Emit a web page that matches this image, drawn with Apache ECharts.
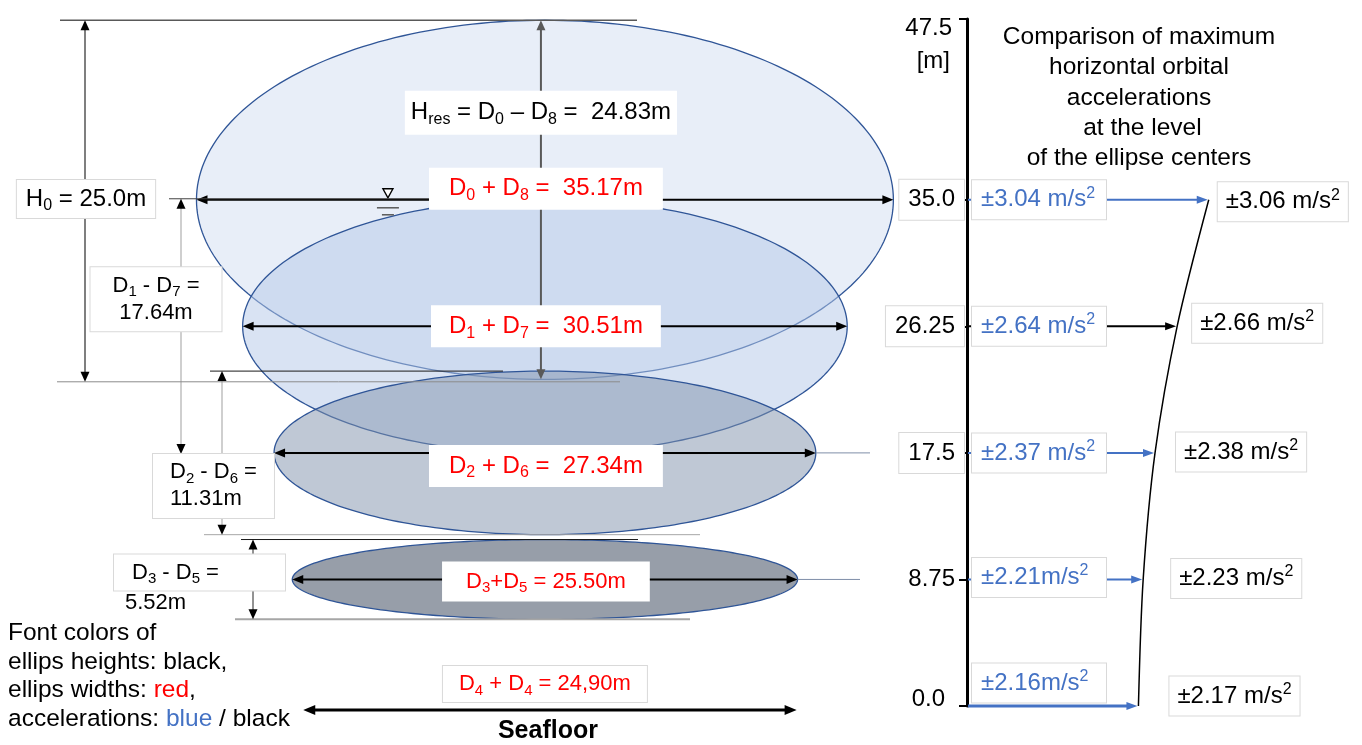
<!DOCTYPE html>
<html>
<head>
<meta charset="utf-8">
<script src="https://cdn.jsdelivr.net/npm/echarts@6/dist/echarts.min.js"></script>
<style>
  html, body { margin: 0; padding: 0; background: #ffffff; }
  #chart { width: 1362px; height: 745px; }
</style>
</head>
<body>
<div id="chart"></div>
<script>
// ---- data ----------------------------------------------------------------
// Ellipse centre heights above the seafloor [m]
const ellipseLevels = [35.0, 26.25, 17.5, 8.75];
// Ellipse widths  D_i + D_(8-i) [m]
const ellipseWidths = [35.17, 30.51, 27.34, 25.50];
// Ellipse heights D_i - D_(8-i) [m]
const ellipseHeights = [24.83, 17.64, 11.31, 5.52];
// Index pairs used in the D-labels
const ellipsePairs = [[0, 8], [1, 7], [2, 6], [3, 5]];
// Still-water depth and orbit width on the seafloor [m]
const waterDepth = 25.0;
const seafloorWidth = 24.90;
// Levels of the compared accelerations [m] and the two sets of values [m/s²]
const accLevels = [35.0, 26.25, 17.5, 8.75, 0.0];
const accBlue = [3.04, 2.64, 2.37, 2.21, 2.16];
const accBlack = [3.06, 2.66, 2.38, 2.23, 2.17];
// Height axis ticks
const heightTicks = [0.0, 8.75, 17.5, 26.25, 35.0, 47.5];
const heightTickLabels = ['0.0', '8.75', '17.5', '26.25', '35.0', '47.5'];

// ---- styling / layout ----------------------------------------------------
const FONT = '"Liberation Sans", Arial, Helvetica, sans-serif';
const RED = '#ff0000';
const BLUE = '#4472c4';
const ellipseFills = ['rgba(180,199,231,0.30)', 'rgba(180,199,231,0.50)', 'rgba(127,145,171,0.50)', '#979ea9'];
const ellipseStroke = '#2f5597';
const widthLabelDy = [-11, 0, 13, 2];
const widthLabelPad = [[6, 20], [6, 18], [6, 20], [6, 24]];
const widthLabelSize = [24, 24, 24, 22];
const widthJoin = [' + ', ' + ', ' + ', '+'];
// vertical dimension lines left of the ellipses (pixels)
const dimX = [null, 181, 222, 253];
const dimColor = [null, '#bfbfbf', '#bfbfbf', '#262626'];
const extTopEnd = [null, 583, 503, 638];
const extBotEnd = [null, 708, 700, 690];
const extTopColor = [null, '#404040', '#1a1a1a', '#1a1a1a'];
const extBotColor = [null, '#bfbfbf', '#a6a6a6', '#a6a6a6'];
const leaderEnd = [null, null, 870, 860];
// acceleration labels (pixels)
const accArrowColor = [BLUE, '#000000', BLUE, BLUE, BLUE];
const accUnitSep = [' ', ' ', ' ', '', ''];
const blueDy = [0, 0, 0, -2, -23];
const blackDx = [9, 15, 21, 28, 31];
const blackDy = [2, -3, -1, -1, -10];
const boxBorder = '#d9d9d9';

// ---- drawing helpers -----------------------------------------------------
function head(tip, from, color, len, hw) {
  const dx = tip[0] - from[0], dy = tip[1] - from[1];
  const L = Math.hypot(dx, dy) || 1, ux = dx / L, uy = dy / L;
  const bx = tip[0] - ux * len, by = tip[1] - uy * len;
  return {
    type: 'polygon',
    shape: { points: [[tip[0], tip[1]], [bx - uy * hw, by + ux * hw], [bx + uy * hw, by - ux * hw]] },
    style: { fill: color }
  };
}
function arrow(p1, p2, color, width, both, len, hw, headColor) {
  len = len || 11; hw = hw || 4.5; headColor = headColor || color;
  const dx = p2[0] - p1[0], dy = p2[1] - p1[1];
  const L = Math.hypot(dx, dy) || 1, ux = dx / L, uy = dy / L;
  const s = both ? [p1[0] + ux * len * 0.7, p1[1] + uy * len * 0.7] : p1;
  const e = [p2[0] - ux * len * 0.7, p2[1] - uy * len * 0.7];
  const out = [
    { type: 'line', shape: { x1: s[0], y1: s[1], x2: e[0], y2: e[1] }, style: { stroke: color, lineWidth: width } },
    head(p2, p1, headColor, len, hw)
  ];
  if (both) out.push(head(p1, p2, headColor, len, hw));
  return out;
}
function hline(x1, x2, y, color, w) {
  return { type: 'line', shape: { x1: x1, y1: y, x2: x2, y2: y }, style: { stroke: color, lineWidth: w || 1 } };
}
// Text block with rich tokens: n = normal, s = subscript, p = superscript
function txt(x, y, text, o) {
  o = o || {};
  const size = o.size || 24, color = o.color || '#000000';
  const small = Math.round(size * 0.66);
  const weight = o.weight || 'normal';
  return {
    type: 'text', x: x, y: y, z2: 30,
    style: {
      text: text,
      fontSize: size, fontFamily: FONT, fontWeight: weight, fill: color,
      align: o.align || 'center', verticalAlign: o.valign || 'middle',
      lineHeight: o.lineHeight,
      backgroundColor: o.bg || null,
      borderColor: o.border || null, borderWidth: o.border ? 1 : 0,
      padding: o.pad || 0,
      width: o.width,
      rich: {
        n: { fontSize: size, fontFamily: FONT, fontWeight: weight, fill: color, verticalAlign: 'middle', lineHeight: o.lineHeight },
        s: { fontSize: small, fontFamily: FONT, fill: color, verticalAlign: 'middle', padding: [Math.round(size * 0.6), 0, 0, 0] },
        p: { fontSize: small, fontFamily: FONT, fill: color, verticalAlign: 'middle', padding: [0, 0, Math.round(size * 0.55), 0] }
      }
    }
  };
}
const N = t => '{n|' + t + '}';
const S = t => '{s|' + t + '}';
const P = t => '{p|' + t + '}';

// ---- series renderers ----------------------------------------------------
function ellipseGeom(api) {
  const c = api.coord([0, api.value(1)]);
  const rx = api.size([api.value(2) / 2, 0])[0];
  const ry = api.size([0, api.value(3) / 2])[1];
  return { c: c, rx: rx, ry: ry };
}

function renderEllipse(params, api) {
  const g = ellipseGeom(api);
  const pts = [];
  for (let k = 0; k < 240; k++) {
    const t = (k / 240) * Math.PI * 2;
    pts.push([g.c[0] + g.rx * Math.cos(t), g.c[1] + g.ry * Math.sin(t)]);
  }
  return {
    type: 'polygon',
    shape: { points: pts },
    style: { fill: ellipseFills[params.dataIndex], stroke: ellipseStroke, lineWidth: 1.3 }
  };
}

function renderDimensions(params, api) {
  const i = params.dataIndex;
  const g = ellipseGeom(api);
  const left = g.c[0] - g.rx, right = g.c[0] + g.rx;
  const top = g.c[1] - g.ry, bottom = g.c[1] + g.ry;
  let ch = [];
  // width arrow across the ellipse centre
  ch = ch.concat(arrow([left, g.c[1]], [right, g.c[1]], '#000000', 2, true, 11, 4.5));
  if (leaderEnd[i]) ch.push(hline(right, leaderEnd[i], g.c[1], '#7f8ea8', 1));
  if (i === 0) {
    // residual height through the centre, and the still-water symbol
    ch = ch.concat(arrow([g.c[0] - 4, top], [g.c[0] - 4, bottom], '#595959', 2, true, 10, 4.5));
    const sx = g.c[0] - 157, sy = g.c[1];
    ch.push({ type: 'polygon', shape: { points: [[sx - 5, sy - 11], [sx + 5, sy - 11], [sx, sy - 2]] },
      style: { fill: '#ffffff', stroke: '#000000', lineWidth: 1.4 } });
    ch.push(hline(sx - 11, sx + 11, sy + 8, '#595959', 1.5));
    ch.push(hline(sx - 6, sx + 6, sy + 15, '#595959', 1.5));
  } else {
    const x = dimX[i];
    ch.push(hline(x - 12, extTopEnd[i], top, extTopColor[i], 1));
    ch.push(hline(x - 18, extBotEnd[i], bottom, extBotColor[i], i === 3 ? 2 : 1));
    ch = ch.concat(arrow([x, top], [x, bottom], dimColor[i], i === 3 ? 1 : 1.5, true, 10, 4.5, '#000000'));
  }
  return { type: 'group', children: ch };
}

function renderEllipseLabels(params, api) {
  const i = params.dataIndex;
  const g = ellipseGeom(api);
  const pr = ellipsePairs[i];
  const w = api.value(2), h = api.value(3);
  const ch = [];
  const wText = N('D') + S(pr[0]) + N(widthJoin[i] + 'D') + S(pr[1]) + N(i === 3 ? ' = ' + w.toFixed(2) + 'm' : ' =  ' + w.toFixed(2) + 'm');
  ch.push(txt(g.c[0] + 1, g.c[1] + widthLabelDy[i], wText,
    { size: widthLabelSize[i], color: RED, bg: '#ffffff', pad: widthLabelPad[i] }));
  if (i === 0) {
    const hText = N('H') + S('res') + N(' = D') + S(pr[0]) + N(' \u2013 D') + S(pr[1]) + N(' =  ' + h.toFixed(2) + 'm');
    ch.push(txt(g.c[0] - 4, g.c[1] - 87, hText, { size: 24, bg: '#ffffff', pad: [7, 6] }));
  } else {
    const mid = g.c[1];
    const line1 = N('D') + S(pr[0]) + N(' - D') + S(pr[1]) + N(' =');
    const line2 = N(h.toFixed(2) + 'm');
    if (i === 1) {
      ch.push(txt(dimX[i] - 25, mid - 27, line1 + '\n' + line2,
        { size: 22, lineHeight: 27, bg: '#ffffff', border: boxBorder, pad: [5, 22] }));
    } else if (i === 2) {
      ch.push(txt(dimX[i] - 69, mid + 33, line1 + '\n' + line2,
        { size: 22, lineHeight: 27, align: 'left', bg: '#ffffff', border: boxBorder, pad: [5, 17] }));
    } else {
      ch.push(txt(dimX[i] - 139, mid - 7, line1,
        { size: 22, align: 'left', bg: '#ffffff', border: boxBorder, pad: [4, 18], width: 135 }));
      ch.push(txt(dimX[i] - 128, mid + 23, line2, { size: 22, align: 'left' }));
    }
  }
  return { type: 'group', children: ch };
}

function renderWaterDepth(params, api) {
  const topV = api.value(0), depth = api.value(1);
  const pTop = api.coord([0, topV]);
  const pBot = api.coord([0, topV - depth]);
  const x = 85;
  let ch = [
    hline(60, 637, pTop[1], '#595959', 1.5),
    hline(57, 620, pBot[1], '#8c8c8c', 1)
  ];
  ch = ch.concat(arrow([x, pTop[1]], [x, pBot[1]], '#7f7f7f', 2, true, 10, 4.5, '#000000'));
  ch.push(txt(x + 1, (pTop[1] + pBot[1]) / 2 - 2, N('H') + S('0') + N(' = ' + depth.toFixed(1) + 'm'),
    { size: 24, bg: '#ffffff', border: boxBorder, pad: [4, 9] }));
  return { type: 'group', children: ch };
}

function renderSeafloor(params, api) {
  const w = api.value(2);
  const c = api.coord([0, api.value(1)]);
  const hw = api.size([w / 2, 0])[0];
  let ch = arrow([c[0] - hw + 5, c[1] + 4], [c[0] + hw + 5, c[1] + 4], '#000000', 3, true, 12, 5);
  ch.push(txt(c[0], c[1] - 22, N('D') + S('4') + N(' + D') + S('4') + N(' = ' + w.toFixed(2).replace('.', ',') + 'm'),
    { size: 22, color: RED, bg: '#ffffff', border: boxBorder, pad: [4, 16] }));
  ch.push(txt(c[0] + 3, c[1] + 25, N('Seafloor'), { size: 25, weight: 'bold' }));
  return { type: 'group', children: ch };
}

function renderAccelerations(params, api) {
  const i = params.dataIndex;
  const blk = api.value(0), lv = api.value(1), blu = api.value(2);
  const p = api.coord([blk, lv]);
  const a = api.coord([0, lv]);
  let ch = arrow([a[0] + 1, p[1]], [p[0] - 1, p[1]], accArrowColor[i], i === 4 ? 3 : 2, false, 11, 4);
  ch.push(txt(a[0] + 5, p[1] + blueDy[i], N('\u00b1' + blu.toFixed(2) + accUnitSep[i] + 'm/s') + P('2'),
    { size: 24, color: BLUE, align: 'left', bg: '#ffffff', border: boxBorder, pad: [5, 9], width: 116 }));
  ch.push(txt(p[0] + blackDx[i], p[1] + blackDy[i], N('\u00b1' + blk.toFixed(2) + ' m/s') + P('2'),
    { size: 24, align: 'left', bg: '#ffffff', border: boxBorder, pad: [5, 8] }));
  return { type: 'group', children: ch };
}

function renderUnit(params, api) {
  const p = api.coord([0, api.value(1)]);
  return { type: 'group', children: [txt(p[0] - 17, p[1] + 42, N('[m]'), { size: 24, align: 'right' })] };
}

// ---- chart ---------------------------------------------------------------
const ellipseData = ellipseLevels.map((lv, i) => [0, lv, ellipseWidths[i], ellipseHeights[i]]);
const boxedTicks = [false, false, true, true, true, false];

const option = {
  animation: false,
  backgroundColor: '#ffffff',
  grid: [
    { left: 0, right: 395, top: 19, bottom: 39, outerBoundsMode: 'none', containLabel: false },
    { left: 967, right: 0, top: 19, bottom: 39, outerBoundsMode: 'none', containLabel: false }
  ],
  xAxis: [
    { gridIndex: 0, type: 'value', min: -27.5, max: 21.3, show: false },
    { gridIndex: 1, type: 'value', min: 0, max: 5, show: false }
  ],
  yAxis: [
    { gridIndex: 0, type: 'value', min: 0, max: 47.5, show: false },
    {
      gridIndex: 1, type: 'value', min: 0, max: 47.5, position: 'left',
      axisLine: { show: true, onZero: false, lineStyle: { color: '#000000', width: 3 } },
      axisTick: { show: true, customValues: heightTicks, length: 8, lineStyle: { color: '#000000', width: 2 } },
      splitLine: { show: false },
      axisLabel: {
        show: true, customValues: heightTicks, margin: 3,
        showMinLabel: true, showMaxLabel: true, hideOverlap: false,
        formatter: function (v) {
          const k = heightTicks.findIndex(t => Math.abs(t - v) < 1e-6);
          const s = k >= 0 ? heightTickLabels[k] : String(v);
          if (k === 0) return '{lo|' + s + '}';
          if (k === heightTicks.length - 1) return '{hi|' + s + '}';
          return boxedTicks[k] ? '{bx|' + s + '}' : '{pl|' + s + '}';
        },
        rich: {
          bx: { fontSize: 24, fontFamily: FONT, color: '#000000', backgroundColor: '#ffffff',
                borderColor: boxBorder, borderWidth: 1, padding: [8, 9, 8, 9] },
          pl: { fontSize: 24, fontFamily: FONT, color: '#000000', padding: [8, 9, 8, 9] },
          hi: { fontSize: 24, fontFamily: FONT, color: '#000000', padding: [18, 12, 0, 9] },
          lo: { fontSize: 24, fontFamily: FONT, color: '#000000', padding: [0, 19, 14, 9] }
        }
      }
    }
  ],
  graphic: [
    {
      type: 'text', x: 1139, y: 22, z: 10,
      style: {
        text: 'Comparison of maximum\nhorizontal orbital\naccelerations\n at the level\nof the ellipse centers',
        fontSize: 24.5, fontFamily: FONT, fill: '#000000', align: 'center', verticalAlign: 'top', lineHeight: 30.3
      }
    },
    {
      type: 'text', x: 8, y: 619, z: 10,
      style: {
        text: '{k|Font colors of}\n{k|ellips heights: black,}\n{k|ellips widths: }{r|red}{k|,}\n{k|accelerations: }{b|blue}{k| / black}',
        fontSize: 24.5, fontFamily: FONT, fill: '#000000', align: 'left', verticalAlign: 'top', lineHeight: 28.5,
        rich: {
          k: { fontSize: 24.5, fontFamily: FONT, fill: '#000000', lineHeight: 28.5 },
          r: { fontSize: 24.5, fontFamily: FONT, fill: RED, lineHeight: 28.5 },
          b: { fontSize: 24.5, fontFamily: FONT, fill: BLUE, lineHeight: 28.5 }
        }
      }
    }
  ],
  series: [
    {
      name: 'ellipses', type: 'custom', xAxisIndex: 0, yAxisIndex: 0, z: 2, clip: false,
      dimensions: ['x', 'level', 'width', 'height'], encode: { x: 0, y: 1 },
      data: ellipseData, renderItem: renderEllipse, silent: true
    },
    {
      name: 'dimensions', type: 'custom', xAxisIndex: 0, yAxisIndex: 0, z: 3, clip: false,
      dimensions: ['x', 'level', 'width', 'height'], encode: { x: 0, y: 1 },
      data: ellipseData, renderItem: renderDimensions, silent: true
    },
    {
      name: 'water depth', type: 'custom', xAxisIndex: 0, yAxisIndex: 0, z: 3, clip: false,
      data: [[ellipseLevels[0] + ellipseHeights[0] / 2, waterDepth]],
      encode: { y: 0 }, renderItem: renderWaterDepth, silent: true
    },
    {
      name: 'seafloor', type: 'custom', xAxisIndex: 0, yAxisIndex: 0, z: 3, clip: false,
      dimensions: ['x', 'level', 'width'], encode: { x: 0, y: 1 },
      data: [[0, 0, seafloorWidth]], renderItem: renderSeafloor, silent: true
    },
    {
      name: 'ellipse labels', type: 'custom', xAxisIndex: 0, yAxisIndex: 0, z: 5, clip: false,
      dimensions: ['x', 'level', 'width', 'height'], encode: { x: 0, y: 1 },
      data: ellipseData, renderItem: renderEllipseLabels, silent: true
    },
    {
      name: 'acceleration curve', type: 'line', xAxisIndex: 1, yAxisIndex: 1, z: 4,
      data: accBlack.map((v, i) => [v, accLevels[i]]),
      smooth: 0.3, showSymbol: false, symbol: 'none', silent: true,
      lineStyle: { color: '#000000', width: 1.5 }
    },
    {
      name: 'accelerations', type: 'custom', xAxisIndex: 1, yAxisIndex: 1, z: 5, clip: false,
      dimensions: ['black', 'level', 'blue'], encode: { x: 0, y: 1 },
      data: accLevels.map((lv, i) => [accBlack[i], lv, accBlue[i]]),
      renderItem: renderAccelerations, silent: true
    },
    {
      name: 'unit', type: 'custom', xAxisIndex: 1, yAxisIndex: 1, z: 5, clip: false,
      data: [[0, heightTicks[heightTicks.length - 1]]], encode: { x: 0, y: 1 },
      renderItem: renderUnit, silent: true
    }
  ]
};

const chart = echarts.init(document.getElementById('chart'), null, { renderer: 'canvas' });
chart.setOption(option);
</script>
</body>
</html>
